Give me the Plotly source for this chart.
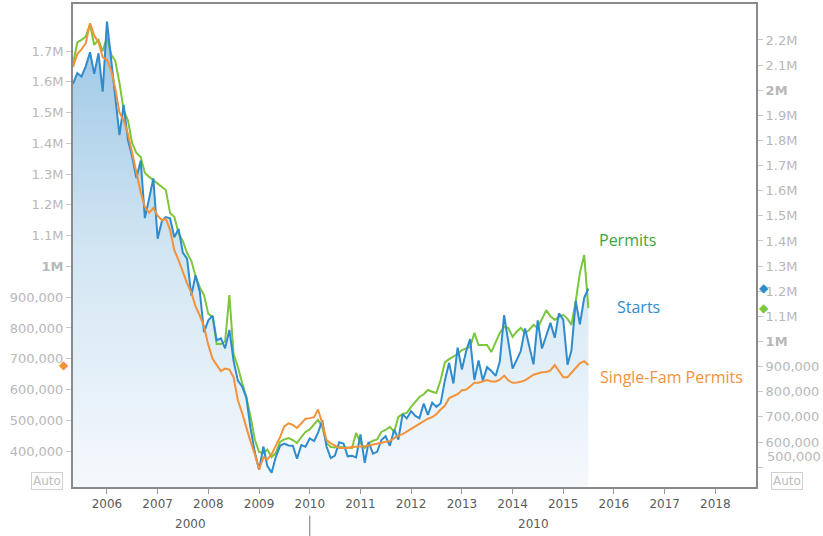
import plotly.graph_objects as go
import pandas as pd

# ---------------- data (thousands of units, SAAR) ----------------
months = pd.date_range("2005-05-01", periods=123, freq="MS")

starts_k = [
    2025, 2068, 2054, 2095, 2151, 2065, 2147, 1994,
    2273, 2119, 1969, 1821, 1942, 1802, 1737, 1650, 1720, 1491, 1570, 1649,
    1409, 1480, 1495, 1490, 1415, 1448, 1354, 1330, 1183, 1264, 1197, 1037,
    1084, 1103, 1005, 1013, 973, 1046, 923, 844, 820, 777, 652, 560,
    490, 582, 505, 478, 540, 585, 594, 586, 585, 534, 588, 581,
    614, 604, 636, 687, 583, 536, 546, 599, 594, 543, 545, 539,
    630, 517, 600, 554, 561, 608, 623, 585, 650, 610, 711, 694,
    723, 704, 695, 753, 708, 757, 740, 754, 847, 915, 833, 976,
    888, 962, 1010, 847, 925, 844, 898, 883, 863, 920, 1105, 1003,
    892, 928, 962, 1052, 985, 909, 1084, 972, 1024, 1074, 1015, 1112,
    1087, 908, 964, 1161, 1068, 1174, 1211,
]

permits_k = [
    2103, 2190, 2200, 2213, 2263, 2180, 2200, 2155,
    2212, 2141, 2118, 2029, 1921, 1880, 1790, 1750, 1734, 1671, 1655, 1643,
    1630, 1615, 1603, 1510, 1496, 1430, 1400, 1352, 1320, 1260, 1215, 1185,
    1110, 1098, 990, 990, 1000, 1185, 950, 899, 835, 779, 700, 610,
    560, 556, 570, 540, 556, 600, 610, 616, 608, 596, 620, 640,
    650, 670, 688, 660, 596, 580, 578, 580, 580, 578, 576, 636,
    596, 576, 595, 605, 610, 640, 648, 660, 640, 700, 712, 716,
    740, 760, 779, 790, 807, 800, 795, 847, 918, 930, 940, 950,
    966, 974, 978, 1034, 986, 986, 986, 958, 994, 1034, 1058, 1054,
    1018, 1040, 1054, 1034, 1046, 1066, 1054, 1090, 1125, 1100, 1086, 1098,
    1106, 1090, 1066, 1160, 1273, 1344, 1133,
]

single_fam_k = [
    1648, 1690, 1705, 1725, 1790, 1750, 1729, 1680,
    1671, 1635, 1580, 1500, 1475, 1430, 1370, 1300, 1240, 1193, 1175, 1190,
    1165, 1150, 1155, 1118, 1053, 1020, 980, 945, 915, 870, 840, 805,
    745, 700, 680, 660, 668, 665, 640, 565, 523, 475, 430, 390,
    340, 380, 372, 390, 415, 445, 480, 490, 485, 475, 490, 505,
    507, 510, 535, 491, 436, 425, 418, 410, 410, 410, 413, 413,
    415, 416, 418, 420, 424, 427, 429, 433, 442, 450, 455, 463,
    472, 480, 488, 495, 505, 510, 520, 535, 548, 572, 580, 585,
    598, 600, 610, 622, 622, 626, 631, 626, 626, 632, 645, 630,
    622, 623, 625, 630, 640, 648, 652, 656, 657, 662, 680, 660,
    640, 640, 655, 672, 685, 692, 680,
]

year_ticks = list(range(2006, 2019))
decade_labels = ["2000", "2010"]
left_ticks_k = list(range(400, 1800, 100))
right_ticks_k = list(range(600, 2300, 100))
right_low_tick_k = 500
series_names = ["Permits", "Starts", "Single-Fam Permits"]

# ---------------- helpers ----------------
def fmt(v_k):
    if v_k >= 1000:
        return f"{v_k/1000:g}M"
    return f"{v_k*1000:,}"

def tick_text(vals):
    out = []
    for v in vals:
        t = fmt(v)
        out.append(f"<b>{t}</b>" if v in (1000, 2000) else t)
    return out

starts = [v * 1000 for v in starts_k]
permits = [v * 1000 for v in permits_k]
single_fam = [v * 1000 for v in single_fam_k]

C_GREEN = "#7cc63c"
C_BLUE = "#2f8ccc"
C_ORANGE = "#f39239"

x_start = pd.Timestamp("2005-04-24")
x_end = pd.Timestamp("2018-10-28")
left_range = [280000, 1856000]
right_range = [417000, 2347000]

fig = go.Figure()

# gradient area under Starts (right axis = base "y")
fig.add_trace(go.Scatter(
    x=months, y=starts, yaxis="y", mode="none", fill="tozeroy",
    fillgradient=dict(type="vertical", start=right_range[0], stop=max(starts),
                      colorscale=[[0, "#f5f9fd"], [0.5, "#d3e6f3"], [1, "#9ac6e5"]]),
    hoverinfo="skip", showlegend=False,
))

fig.add_trace(go.Scatter(x=months, y=permits, yaxis="y", mode="lines",
                         line=dict(color=C_GREEN, width=2), name="Permits", showlegend=False))
fig.add_trace(go.Scatter(x=months, y=starts, yaxis="y", mode="lines",
                         line=dict(color=C_BLUE, width=2), name="Starts", showlegend=False))
# single-family permits on left axis (overlay "y2")
fig.add_trace(go.Scatter(x=months, y=single_fam, yaxis="y2", mode="lines",
                         line=dict(color=C_ORANGE, width=2), name="Single-Fam Permits",
                         showlegend=False))

tick_font = dict(family="DejaVu Sans", size=13, color="#b8b8b8")

fig.update_layout(
    width=823, height=536,
    margin=dict(l=72, r=66, t=3, b=48, autoexpand=False),
    paper_bgcolor="white", plot_bgcolor="white",
    showlegend=False,
    xaxis=dict(
        type="date", range=[x_start, x_end], automargin=False,
        tickvals=[pd.Timestamp(f"{y}-01-01") for y in year_ticks],
        ticktext=[str(y) for y in year_ticks],
        ticks="outside", ticklen=5, tickcolor="#999", showgrid=False, zeroline=False,
        showline=False,
        tickfont=dict(family="DejaVu Sans", size=12, color="#5a5a5a"),
    ),
    yaxis=dict(
        range=right_range, side="right", automargin=False,
        tickvals=[v * 1000 for v in right_ticks_k + [right_low_tick_k]],
        ticktext=tick_text(right_ticks_k) + [""],
        ticks="outside", ticklen=5, tickcolor="#c8c8c8",
        showgrid=False, zeroline=False, showline=False, tickfont=tick_font,
    ),
    yaxis2=dict(
        range=left_range, overlaying="y", side="left", automargin=False,
        tickvals=[v * 1000 for v in left_ticks_k],
        ticktext=tick_text(left_ticks_k), ticks="outside", ticklen=5, tickcolor="#c8c8c8",
        showgrid=False, zeroline=False, showline=False, tickfont=tick_font,
    ),
)

# last-value diamonds on the axes
fig.add_annotation(x=0, y=single_fam[-1], xref="paper", yref="y2", xanchor="center",
                   yanchor="middle", xshift=-8, text="◆", showarrow=False,
                   font=dict(family="DejaVu Sans", size=12, color=C_ORANGE))
for val, col in ((starts[-1], C_BLUE), (permits[-1], C_GREEN)):
    fig.add_annotation(x=1, y=val, xref="paper", yref="y", xanchor="center",
                       yanchor="middle", xshift=7, text="◆", showarrow=False,
                       font=dict(family="DejaVu Sans", size=12, color=col))

# squeezed lowest right-axis label (sits just above the Auto box)
fig.add_annotation(x=1, y=0.064, xref="paper", yref="paper", xanchor="left", yanchor="middle",
                   xshift=8, text=fmt(right_low_tick_k), showarrow=False, font=tick_font)

# plot frame
fig.add_shape(type="rect", xref="paper", yref="paper", x0=0, x1=1, y0=0, y1=1,
              line=dict(color="#8a8a8a", width=2), layer="above")

# decade labels under the year axis
mid_2010 = pd.Timestamp("2010-01-01")
fig.add_annotation(x=x_start + (mid_2010 - x_start) / 2, y=-0.074, xref="x", yref="paper",
                   xanchor="center", yanchor="middle",
                   text=decade_labels[0], showarrow=False,
                   font=dict(family="DejaVu Sans", size=12, color="#5a5a5a"))
fig.add_annotation(x=mid_2010 + (x_end - mid_2010) / 2, y=-0.074, xref="x", yref="paper",
                   xanchor="center", yanchor="middle",
                   text=decade_labels[1], showarrow=False,
                   font=dict(family="DejaVu Sans", size=12, color="#5a5a5a"))
fig.add_shape(type="line", xref="x", yref="paper", x0=mid_2010, x1=mid_2010,
              y0=-0.057, y1=-0.099, line=dict(color="#777", width=1))

# "Auto" boxes
for xp in (-0.036, 1.044):
    fig.add_annotation(x=xp, y=0.0145, xref="paper", yref="paper", text="Auto",
                       xanchor="center", yanchor="middle",
                       showarrow=False, bordercolor="#d0d0d0", borderwidth=1, borderpad=1,
                       bgcolor="white",
                       font=dict(family="DejaVu Sans", size=12, color="#bdbdbd"))

# series labels
label_specs = [
    (series_names[0], 0.7664, 0.511, "#3ca53c"),
    (series_names[1], 0.7927, 0.373, "#2f8ccc"),
    (series_names[2], 0.7679, 0.229, "#f39239"),
]
for text, xp, yp, col in label_specs:
    fig.add_annotation(x=xp, y=yp, xref="paper", yref="paper", text=text, showarrow=False,
                       xanchor="left", yanchor="middle",
                       font=dict(family="Open Sans", size=16, color=col))

fig.write_html("out.html", config={"displayModeBar": False},
               post_script="document.body.style.margin='0px';")
